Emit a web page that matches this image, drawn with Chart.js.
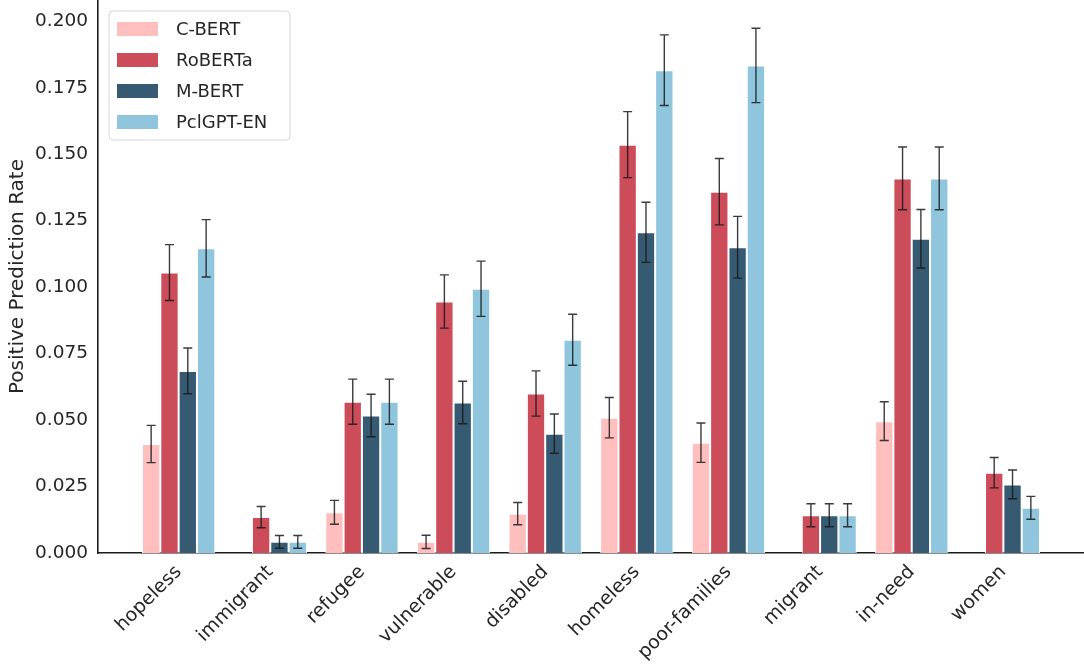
<!DOCTYPE html>
<html>
<head>
<meta charset="utf-8">
<script src="https://cdn.jsdelivr.net/npm/chart.js@4.4.1/dist/chart.umd.min.js"></script>
<style>
    html, body { margin: 0; padding: 0; background: #fff; }
    #grafico { display: block; }
</style>
</head>
<body>
<canvas id="grafico" width="1084" height="666"></canvas>
<script>
const categorias = ['hopeless', 'immigrant', 'refugee', 'vulnerable', 'disabled', 'homeless', 'poor-families', 'migrant', 'in-need', 'women'];
const modelos = ['C-BERT', 'RoBERTa', 'M-BERT', 'PclGPT-EN'];
const cores = ['#ffbfbf', '#cc4c5a', '#375a73', '#8fc6de'];

const cbert = [0.0410, 0, 0.0153, 0.0042, 0.0148, 0.0509, 0.0415, 0, 0.0496, 0];
const cbertErr = [0.0070, 0, 0.0045, 0.0025, 0.0042, 0.0076, 0.0074, 0, 0.0073, 0];
const roberta = [0.1055, 0.0135, 0.0569, 0.0946, 0.0600, 0.1536, 0.1359, 0.0142, 0.1409, 0.0302];
const robertaErr = [0.0105, 0.0040, 0.0085, 0.0100, 0.0085, 0.0124, 0.0125, 0.0043, 0.0118, 0.0057];
const mbert = [0.0685, 0.0042, 0.0517, 0.0566, 0.0449, 0.1206, 0.1150, 0.0142, 0.1182, 0.0258];
const mbertErr = [0.0086, 0.0024, 0.0080, 0.0080, 0.0074, 0.0113, 0.0116, 0.0043, 0.0110, 0.0054];
const pclgpt = [0.1146, 0.0042, 0.0569, 0.0994, 0.0802, 0.1816, 0.1834, 0.0142, 0.1409, 0.0170];
const pclgptErr = [0.0108, 0.0024, 0.0085, 0.0104, 0.0096, 0.0133, 0.0140, 0.0043, 0.0118, 0.0043];

const series = [cbert, roberta, mbert, pclgpt];
const erros = [cbertErr, robertaErr, mbertErr, pclgptErr];
const yTicks = [0, 0.025, 0.05, 0.075, 0.1, 0.125, 0.15, 0.175, 0.2];

const FONTE = 'DejaVu Sans';
const TEXTO = '#262626';

// barras de erro desenhadas a partir das escalas do grafico
const errorBars = {
    id: 'errorBars',
    afterDatasetsDraw(chart) {
        const ctx = chart.ctx;
        const y = chart.scales.y;
        ctx.save();
        ctx.strokeStyle = 'rgba(25,25,25,0.85)';
        ctx.lineWidth = 1.4;
        chart.data.datasets.forEach((ds, i) => {
            chart.getDatasetMeta(i).data.forEach((bar, j) => {
                const v = series[i][j];
                const e = erros[i][j];
                if (!e) return;
                const top = y.getPixelForValue(v + e);
                const bottom = y.getPixelForValue(v - e);
                ctx.beginPath();
                ctx.moveTo(bar.x, top);
                ctx.lineTo(bar.x, bottom);
                ctx.moveTo(bar.x - 4.5, top);
                ctx.lineTo(bar.x + 4.5, top);
                ctx.moveTo(bar.x - 4.5, bottom);
                ctx.lineTo(bar.x + 4.5, bottom);
                ctx.stroke();
            });
        });
        ctx.restore();
    }
};

// legenda dentro da area do grafico, canto superior esquerdo
const legendaInterna = {
    id: 'legendaInterna',
    afterDraw(chart) {
        const ctx = chart.ctx;
        const x0 = chart.chartArea.left + 11;
        const y0 = chart.chartArea.top + 11;
        ctx.save();
        ctx.beginPath();
        ctx.roundRect(x0, y0, 181, 129, 4);
        ctx.fillStyle = 'rgba(255,255,255,0.8)';
        ctx.fill();
        ctx.strokeStyle = '#d6d6d6';
        ctx.lineWidth = 1;
        ctx.stroke();
        ctx.font = `18px '${FONTE}'`;
        ctx.textAlign = 'left';
        ctx.textBaseline = 'middle';
        chart.data.datasets.forEach((ds, i) => {
            const cy = y0 + 18 + i * 31;
            ctx.fillStyle = ds.backgroundColor;
            ctx.fillRect(x0 + 8, cy - 7, 41, 14);
            ctx.fillStyle = TEXTO;
            ctx.fillText(ds.label, x0 + 67, cy + 1);
        });
        ctx.restore();
    }
};

function semPadding(scale) {
    scale.paddingTop = 0;
    scale.paddingBottom = 0;
    scale.paddingLeft = 0;
    scale.paddingRight = 0;
}

function montarGrafico() {
    const canvas = document.getElementById('grafico');

    new Chart(canvas, {
        type: 'bar',
        data: {
            datasets: modelos.map((nome, i) => ({
                label: nome,
                data: series[i].map((v, j) => ({ x: j, y: v })),
                backgroundColor: cores[i],
                borderColor: '#ffffff',
                borderWidth: 1,
                categoryPercentage: 0.8,
                barPercentage: 1
            }))
        },
        options: {
            responsive: false,
            devicePixelRatio: 1,
            animation: false,
            layout: { padding: 0 },
            plugins: {
                legend: { display: false },
                tooltip: { enabled: false }
            },
            scales: {
                x: {
                    type: 'linear',
                    offset: false,
                    min: -0.88,
                    max: 9.88,
                    grid: { display: false, drawTicks: false, offset: false },
                    border: { display: true, color: '#1a1a1a', width: 1.6 },
                    afterBuildTicks: scale => {
                        scale.ticks = categorias.map((c, i) => ({ value: i }));
                    },
                    afterFit: scale => {
                        scale.height = 113;
                        semPadding(scale);
                    },
                    ticks: {
                        autoSkip: false,
                        minRotation: 45,
                        maxRotation: 45,
                        padding: 8,
                        color: TEXTO,
                        font: { family: FONTE, size: 19 },
                        callback: v => categorias[v]
                    }
                },
                y: {
                    min: 0,
                    max: 0.208,
                    grid: { display: false, drawTicks: false },
                    border: { display: true, color: '#1a1a1a', width: 1.6 },
                    afterBuildTicks: scale => {
                        scale.ticks = yTicks.map(v => ({ value: v }));
                    },
                    afterFit: scale => {
                        scale.width = 98;
                        semPadding(scale);
                    },
                    ticks: {
                        padding: 10,
                        color: TEXTO,
                        font: { family: FONTE, size: 18.5 },
                        callback: v => v.toFixed(3)
                    },
                    title: {
                        display: true,
                        text: 'Positive Prediction Rate',
                        color: TEXTO,
                        font: { family: FONTE, size: 20 },
                        padding: { top: 6, bottom: 0 }
                    }
                }
            }
        },
        plugins: [errorBars, legendaInterna]
    });
}

montarGrafico();
</script>
</body>
</html>
